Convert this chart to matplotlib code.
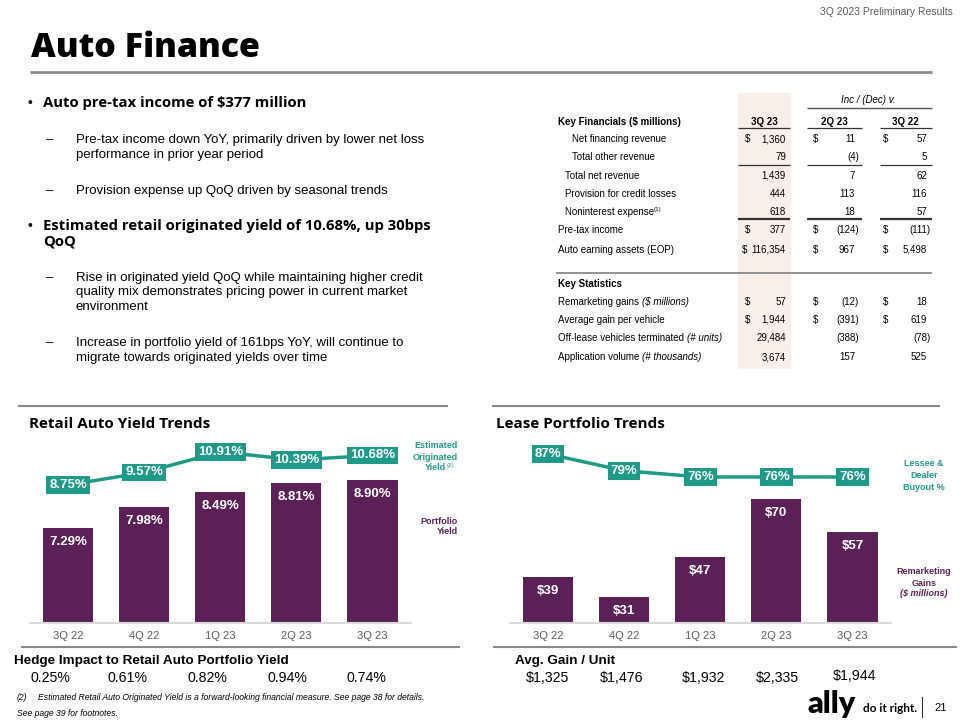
"""
Auto Finance slide: key financials table, retail auto yield trends and lease portfolio trends.
"""
import matplotlib
matplotlib.use("Agg")
import matplotlib.pyplot as plt

plt.rcParams["text.parse_math"] = False
plt.rcParams["font.family"] = ["Liberation Sans", "DejaVu Sans"]

W, H = 960, 720
TEAL = "#1e9a88"
PLUM = "#5b2157"
GRAY = "#595959"
LINE = "#8c8c8c"
SHADE = "#f8f0e8"
HEAD = ["Open Sans", "DejaVu Sans"]
NARROW = ["Liberation Sans Narrow", "Liberation Sans"]

# ---- data -------------------------------------------------------------
quarters = ["3Q 22", "4Q 22", "1Q 23", "2Q 23", "3Q 23"]
portfolio_yield = [7.29, 7.98, 8.49, 8.81, 8.90]
originated_yield = [8.75, 9.57, 10.91, 10.39, 10.68]
remarketing_gains = [39, 31, 47, 70, 57]
buyout_pct = [87, 79, 76, 76, 76]
hedge_impact = [0.25, 0.61, 0.82, 0.94, 0.74]
avg_gain_unit = [1325, 1476, 1932, 2335, 1944]

fin_labels = ["Net financing revenue", "Total other revenue", "Total net revenue",
              "Provision for credit losses", "Noninterest expense", "Pre-tax income",
              "Auto earning assets (EOP)"]
fin_3q23 = ["1,360", "79", "1,439", "444", "618", "377", "116,354"]
fin_2q23 = ["11", "(4)", "7", "113", "18", "(124)", "967"]
fin_3q22 = ["57", "5", "62", "116", "57", "(111)", "5,498"]
fin_dollar = [True, False, False, False, False, True, True]

stat_labels = ["Remarketing gains", "Average gain per vehicle",
               "Off-lease vehicles terminated", "Application volume"]
stat_units = ["($ millions)", "", "(# units)", "(# thousands)"]
stat_3q23 = ["57", "1,944", "29,484", "3,674"]
stat_2q23 = ["(12)", "(391)", "(388)", "157"]
stat_3q22 = ["18", "619", "(78)", "525"]
stat_dollar = [True, True, False, False]

bullets = [
    ("b", 103, "Auto pre-tax income of $377 million"),
    ("d", 140, "Pre-tax income down YoY, primarily driven by lower net loss"),
    ("c", 155, "performance in prior year period"),
    ("d", 191, "Provision expense up QoQ driven by seasonal trends"),
    ("b", 226, "Estimated retail originated yield of 10.68%, up 30bps"),
    ("bc", 242, "QoQ"),
    ("d", 278, "Rise in originated yield QoQ while maintaining higher credit"),
    ("c", 292, "quality mix demonstrates pricing power in current market"),
    ("c", 307, "environment"),
    ("d", 343, "Increase in portfolio yield of 161bps YoY, will continue to"),
    ("c", 358, "migrate towards originated yields over time"),
]

fig = plt.figure(figsize=(W / 100, H / 100), dpi=100)
ov = fig.add_axes([0, 0, 1, 1])
ov.set_xlim(0, W)
ov.set_ylim(H, 0)
ov.axis("off")
renderer = fig.canvas.get_renderer()


def hline(x0, x1, y, color=LINE, lw=1.0):
    ov.plot([x0, x1], [y, y], color=color, lw=lw, solid_capstyle="butt")


def chain(x, y, pieces):
    for s, kw in pieces:
        t = ov.text(x, y, s, ha="left", **kw)
        x += t.get_window_extent(renderer).width


# ---- header ---------------------------------------------------------------
ov.text(953, 12, "3Q 2023 Preliminary Results", ha="right", va="center", fontsize=7.5, color=GRAY)
ov.text(31, 48, "Auto Finance", ha="left", va="center", fontsize=24.5, fontweight=800,
        family=HEAD, color="black")
hline(30, 932, 72, color="#8a8a8a", lw=2)

# ---- bullets --------------------------------------------------------------
for kind, y, s in bullets:
    if kind in ("b", "bc"):
        if kind == "b":
            ov.text(28, y, "•", ha="left", va="center", fontsize=10, color="black")
        ov.text(43, y, s, ha="left", va="center", fontsize=10.7, fontweight="bold",
                family=HEAD, color="black")
    else:
        if kind == "d":
            ov.text(46, y, "–", ha="left", va="center", fontsize=9.5, color="black")
        ov.text(76, y, s, ha="left", va="center", fontsize=9.5, color="black")

# ---- table ----------------------------------------------------------------
ov.add_patch(plt.Rectangle((738, 93), 52, 275, color=SHADE, zorder=0))
TS = 7
ov.text(868, 100, "Inc / (Dec) v.", ha="center", va="center", fontsize=TS, style="italic")
hline(807, 932, 108, color="#555555", lw=1)
ov.text(558, 122, "Key Financials ($ millions)", ha="left", va="center", fontsize=TS,
        fontweight="bold")
for cx, s in zip([764, 834, 905], ["3Q 23", "2Q 23", "3Q 22"]):
    ov.text(cx, 122, s, ha="center", va="center", fontsize=TS, fontweight="bold")
spans = [(738, 790), (807, 862), (880, 932)]
for a, b in spans:
    hline(a, b, 128, color="#333333", lw=0.9)

dollar_x = [745, 813, 883]
right_x = [786, 855, 927]


def value_row(y, vals, dollar):
    for k, v in enumerate(vals):
        if dollar:
            dx = dollar_x[k] - (3 if len(v) > 6 else 0)
            ov.text(dx, y, "$", ha="left", va="center", fontsize=TS)
        rx = right_x[k] + (4 if v.endswith(")") else 0)
        ov.text(rx, y, v, ha="right", va="center", fontsize=TS)


fin_y = [139, 157, 176, 194, 212, 230, 250]
fin_x = [572, 572, 565, 565, 565, 558, 558]
for i, lab in enumerate(fin_labels):
    if lab == "Noninterest expense":
        chain(fin_x[i], fin_y[i], [(lab, dict(va="center", fontsize=TS)),
                                    ("(1)", dict(va="bottom", fontsize=4.5))])
    else:
        ov.text(fin_x[i], fin_y[i], lab, ha="left", va="center", fontsize=TS)
    value_row(fin_y[i], [fin_3q23[i], fin_2q23[i], fin_3q22[i]], fin_dollar[i])
for a, b in spans:
    hline(a, b, 165, color="#333333", lw=0.9)
    hline(a, b, 219, color="#333333", lw=1.6)

hline(556, 932, 273, color="#8a8a8a", lw=1.3)
ov.text(558, 284, "Key Statistics", ha="left", va="center", fontsize=TS, fontweight="bold")
stat_y = [302, 320, 338, 357]
for i, lab in enumerate(stat_labels):
    pieces = [(lab + " ", dict(va="center", fontsize=TS))]
    if stat_units[i]:
        pieces.append((stat_units[i], dict(va="center", fontsize=TS, style="italic")))
    chain(558, stat_y[i], pieces)
    value_row(stat_y[i], [stat_3q23[i], stat_2q23[i], stat_3q22[i]], stat_dollar[i])

# ---- section titles and rules -----------------------------------------------
hline(18, 448, 406, color="#8a8a8a", lw=1.5)
hline(492, 940, 406, color="#8a8a8a", lw=1.5)
hline(21, 460, 647, color="#8a8a8a", lw=1.5)
hline(493, 957, 647, color="#8a8a8a", lw=1.5)
ov.text(29, 424, "Retail Auto Yield Trends", ha="left", va="center", fontsize=11,
        fontweight="bold", family=HEAD)
ov.text(496, 424, "Lease Portfolio Trends", ha="left", va="center", fontsize=11,
        fontweight="bold", family=HEAD)


def px_axes(x0, y0, x1, y1):
    a = fig.add_axes([x0 / W, 1 - y1 / H, (x1 - x0) / W, (y1 - y0) / H])
    a.set_facecolor("none")
    return a


def trend_chart(x0, bars, bar_lim, line, line_lim, bar_fmt, line_fmt):
    ax = px_axes(x0, 440, x0 + 380.5, 623)
    ax.bar(range(len(bars)), bars, width=0.66, color=PLUM, zorder=2)
    ax.set_xlim(-0.5, 4.5)
    ax.set_ylim(*bar_lim)
    for i, v in enumerate(bars):
        ax.annotate(bar_fmt(v), (i, v), xytext=(0, -10), textcoords="offset points",
                    ha="center", va="center", color="white", fontsize=9.5, fontweight="bold")
    ax.set_xticks(range(len(quarters)), quarters)
    ax.tick_params(axis="x", length=0, pad=6, labelsize=8, labelcolor=GRAY)
    ax.set_yticks([])
    for side in ("top", "left", "right"):
        ax.spines[side].set_visible(False)
    ax.spines["bottom"].set_color("#d9d9d9")
    ax.spines["bottom"].set_linewidth(1.5)

    tw = ax.twinx()
    tw.set_facecolor("none")
    tw.plot(range(len(line)), line, color=TEAL, lw=2.5, zorder=3)
    tw.set_ylim(*line_lim)
    tw.set_yticks([])
    for s in tw.spines.values():
        s.set_visible(False)
    for i, v in enumerate(line):
        tw.text(i, v, line_fmt(v), ha="center", va="center", color="white", fontsize=9.5,
                fontweight="bold", zorder=4,
                bbox=dict(boxstyle="square,pad=0.22", fc=TEAL, ec="none"))
    return ax


trend_chart(30, portfolio_yield, (4.1, 10.24), originated_yield, (-0.27, 11.69),
            lambda v: f"{v:.2f}%", lambda v: f"{v:.2f}%")
trend_chart(510, remarketing_gains, (20.6, 93.5), buyout_pct, (6.1, 93.7),
            lambda v: f"${v:.0f}", lambda v: f"{v:.0f}%")

# side labels
SL = 6.5
for y, s in [(446, "Estimated"), (457, "Originated")]:
    ov.text(458, y, s, ha="right", va="center", fontsize=SL, fontweight="bold", color=TEAL)
ov.text(446, 468, "Yield", ha="right", va="center", fontsize=SL, fontweight="bold", color=TEAL)
ov.text(447, 466, "(2)", ha="left", va="center", fontsize=4.5, color=TEAL)
for y, s in [(521, "Portfolio"), (532, "Yield")]:
    ov.text(458, y, s, ha="right", va="center", fontsize=SL, fontweight="bold", color=PLUM)
for y, s in [(464, "Lessee &"), (475, "Dealer"), (487, "Buyout %")]:
    ov.text(924, y, s, ha="center", va="center", fontsize=SL, fontweight="bold", color=TEAL)
for y, s in [(572, "Remarketing"), (583, "Gains")]:
    ov.text(924, y, s, ha="center", va="center", fontsize=SL, fontweight="bold", color=PLUM)
ov.text(924, 594, "($ millions)", ha="center", va="center", fontsize=SL, fontweight="bold",
        style="italic", color=PLUM)

# ---- bottom strips ------------------------------------------------------------
ov.text(14, 661, "Hedge Impact to Retail Auto Portfolio Yield", ha="left", va="center",
        fontsize=9.7, fontweight="bold", family=NARROW)
for cx, v in zip([50, 127, 207, 287, 366], hedge_impact):
    ov.text(cx, 678, f"{v:.2f}%", ha="center", va="center", fontsize=10.2, family=NARROW)
ov.text(515, 661, "Avg. Gain / Unit", ha="left", va="center", fontsize=9.7, fontweight="bold",
        family=NARROW)
for i, (cx, v) in enumerate(zip([548, 622, 703, 777, 855], avg_gain_unit)):
    ov.text(cx, 676 if i == 4 else 678, f"${v:,}", ha="center", va="center", fontsize=10.2,
            family=NARROW)

ov.text(17, 697, "(2)", ha="left", va="center", fontsize=6.2, style="italic")
ov.text(38, 697, "Estimated Retail Auto Originated Yield is a forward-looking financial measure. "
        "See page 38 for details.", ha="left", va="center", fontsize=6.2, style="italic")
ov.text(17, 713, "See page 39 for footnotes.", ha="left", va="center", fontsize=6.2, style="italic")

# logo and page number
ov.text(807, 704, "ally", ha="left", va="center", fontsize=22, fontweight="heavy",
        family=["Lato", "DejaVu Sans"], color="black")
ov.text(863, 708, "do it right.", ha="left", va="center", fontsize=8.5, fontweight="bold",
        family=["Lato", "DejaVu Sans"], color="black")
ov.plot([922, 922], [697, 717], color="#333333", lw=0.8)
ov.text(941, 708, "21", ha="center", va="center", fontsize=8, color="black")

fig.savefig("out.png", dpi=100)
